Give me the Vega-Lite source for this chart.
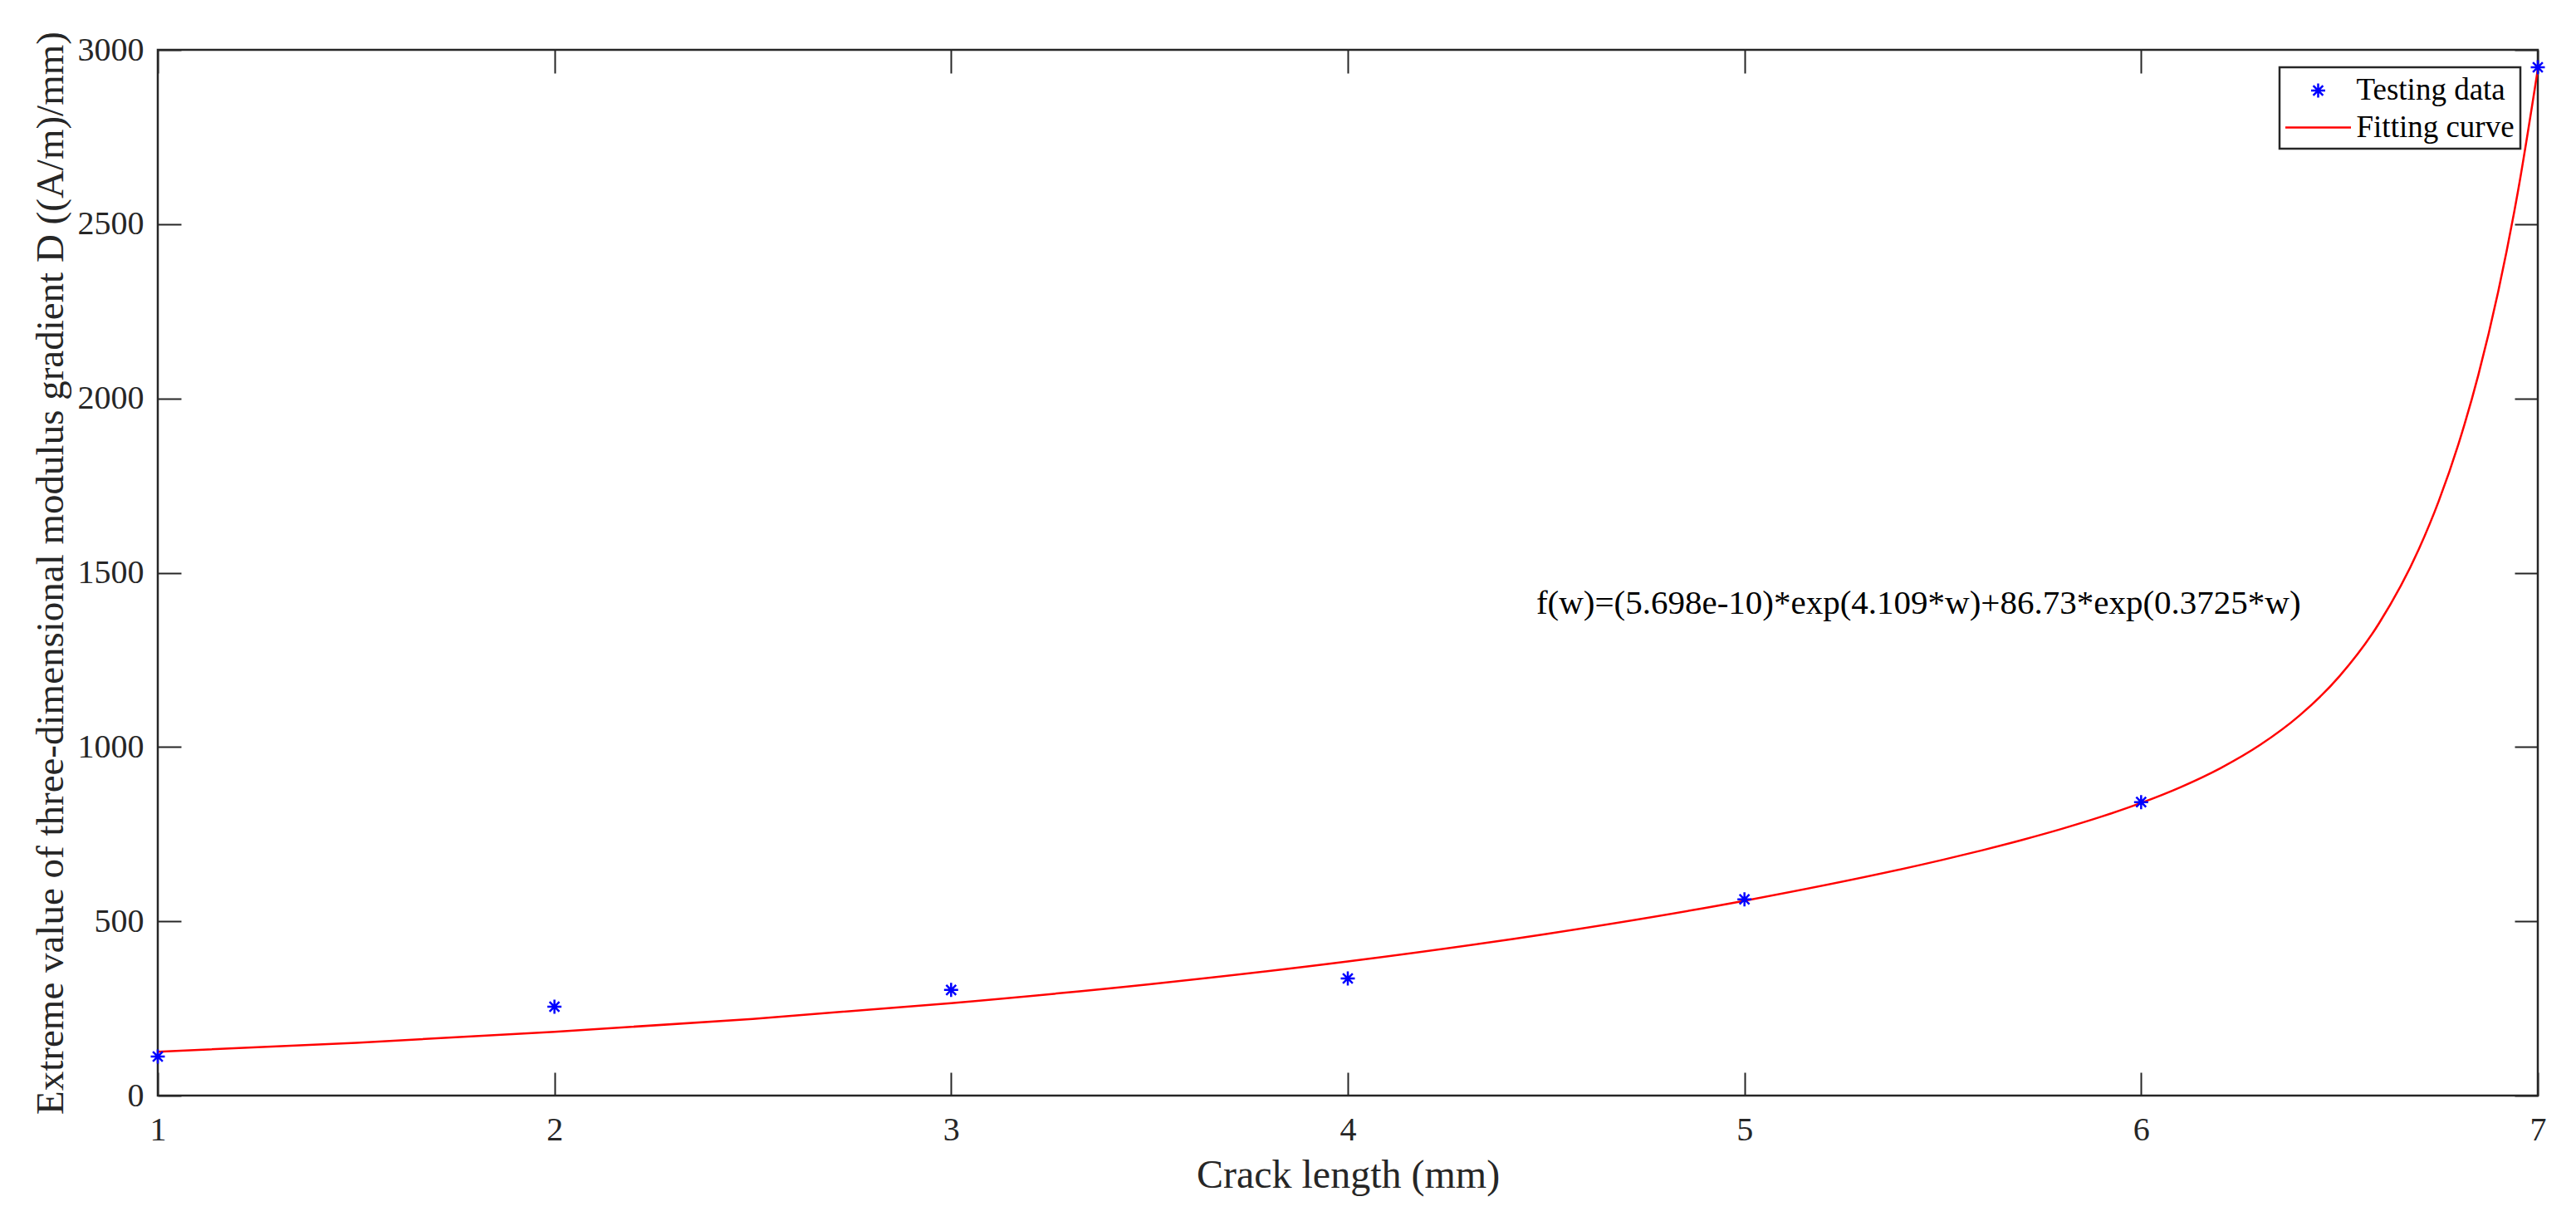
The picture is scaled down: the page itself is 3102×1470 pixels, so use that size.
{
  "$schema": "https://vega.github.io/schema/vega-lite/v6.json",
  "autosize": {"type": "none"},
  "padding": {"left": 190, "top": 60, "right": 46, "bottom": 151},
  "width": 2866,
  "height": 1259,
  "background": "white",
  "config": {
    "view": {"stroke": "#262626", "strokeWidth": 2.5},
    "font": "Liberation Serif",
    "axis": {
      "grid": false,
      "domain": false,
      "labelFlush": false,
      "tickColor": "#262626",
      "tickWidth": 2,
      "tickSize": -28,
      "labelFont": "Liberation Serif",
      "labelFontSize": 40,
      "labelColor": "#262626",
      "titleFont": "Liberation Serif",
      "titleFontWeight": "normal",
      "titleColor": "#262626"
    },
    "legend": {
      "orient": "top-right",
      "offset": 21,
      "padding": 7,
      "strokeColor": "#262626",
      "strokeWidth": 2.5,
      "fillColor": "white",
      "labelFont": "Liberation Serif",
      "labelFontSize": 37,
      "labelColor": "#000000",
      "labelLimit": 0,
      "labelOffset": 25,
      "symbolOffset": 18.5,
      "rowPadding": 5.5,
      "symbolSize": 1560,
      "symbolStrokeWidth": 2.5,
      "title": null
    }
  },
  "datasets": {
    "fit": [
      {"w": 1.0, "value": 125.9, "series": "Fitting curve"},
      {"w": 1.5, "value": 151.6, "series": "Fitting curve"},
      {"w": 2.0, "value": 182.7, "series": "Fitting curve"},
      {"w": 2.5, "value": 220.1, "series": "Fitting curve"},
      {"w": 3.0, "value": 265.2, "series": "Fitting curve"},
      {"w": 3.5, "value": 319.4, "series": "Fitting curve"},
      {"w": 4.0, "value": 384.8, "series": "Fitting curve"},
      {"w": 4.5, "value": 463.7, "series": "Fitting curve"},
      {"w": 5.0, "value": 559.0, "series": "Fitting curve"},
      {"w": 5.5, "value": 676.5, "series": "Fitting curve"},
      {"w": 5.6, "value": 703.9, "series": "Fitting curve"},
      {"w": 5.7, "value": 733.4, "series": "Fitting curve"},
      {"w": 5.8, "value": 765.2, "series": "Fitting curve"},
      {"w": 5.9, "value": 800.2, "series": "Fitting curve"},
      {"w": 6.0, "value": 839.6, "series": "Fitting curve"},
      {"w": 6.1, "value": 885.1, "series": "Fitting curve"},
      {"w": 6.2, "value": 939.3, "series": "Fitting curve"},
      {"w": 6.3, "value": 1006.0, "series": "Fitting curve"},
      {"w": 6.4, "value": 1091.0, "series": "Fitting curve"},
      {"w": 6.5, "value": 1203.0, "series": "Fitting curve"},
      {"w": 6.6, "value": 1355.2, "series": "Fitting curve"},
      {"w": 6.7, "value": 1567.3, "series": "Fitting curve"},
      {"w": 6.75, "value": 1704.7, "series": "Fitting curve"},
      {"w": 6.8, "value": 1869.1, "series": "Fitting curve"},
      {"w": 6.85, "value": 2066.9, "series": "Fitting curve"},
      {"w": 6.9, "value": 2305.4, "series": "Fitting curve"},
      {"w": 6.95, "value": 2594.1, "series": "Fitting curve"},
      {"w": 7.0, "value": 2944.0, "series": "Fitting curve"}
    ],
    "test": [
      {"w": 1, "value": 112, "series": "Testing data"},
      {"w": 2, "value": 255, "series": "Testing data"},
      {"w": 3, "value": 303, "series": "Testing data"},
      {"w": 4, "value": 336, "series": "Testing data"},
      {"w": 5, "value": 563, "series": "Testing data"},
      {"w": 6, "value": 842, "series": "Testing data"},
      {"w": 7, "value": 2950, "series": "Testing data"}
    ],
    "note": [
      {"w": 4.475, "value": 1383, "label": "f(w)=(5.698e-10)*exp(4.109*w)+86.73*exp(0.3725*w)"}
    ]
  },
  "layer": [
    {
      "data": {"name": "fit"},
      "mark": {"type": "line", "interpolate": "monotone", "strokeWidth": 2.5},
      "encoding": {
        "x": {
          "field": "w", "type": "quantitative",
          "scale": {"domain": [1, 7], "nice": false, "zero": false},
          "axis": {
            "orient": "bottom",
            "values": [1, 2, 3, 4, 5, 6, 7],
            "format": "d",
            "labelPadding": 49,
            "title": "Crack length (mm)",
            "titleFontSize": 48,
            "titlePadding": 11
          }
        },
        "y": {
          "field": "value", "type": "quantitative",
          "scale": {"domain": [0, 3000], "nice": false},
          "axis": {
            "orient": "left",
            "values": [0, 500, 1000, 1500, 2000, 2500, 3000],
            "format": "d",
            "labelPadding": 45,
            "title": "Extreme value of three-dimensional modulus gradient D ((A/m)/mm)",
            "titleFontSize": 47,
            "titlePadding": 8
          }
        },
        "color": {
          "field": "series", "type": "nominal",
          "scale": {"domain": ["Testing data", "Fitting curve"], "range": ["#0000ff", "#ff0000"]}
        }
      }
    },
    {
      "data": {"name": "test"},
      "mark": {"type": "point", "filled": false, "size": 1560, "strokeWidth": 2.5, "opacity": 1},
      "encoding": {
        "x": {
          "field": "w", "type": "quantitative",
          "axis": {"orient": "top", "values": [1, 2, 3, 4, 5, 6, 7], "labels": false, "title": null}
        },
        "y": {
          "field": "value", "type": "quantitative",
          "axis": {"orient": "right", "values": [0, 500, 1000, 1500, 2000, 2500, 3000], "labels": false, "title": null}
        },
        "color": {
          "field": "series", "type": "nominal",
          "scale": {"domain": ["Testing data", "Fitting curve"], "range": ["#0000ff", "#ff0000"]}
        },
        "shape": {
          "field": "series", "type": "nominal",
          "scale": {
            "domain": ["Testing data", "Fitting curve"],
            "range": [
              "M0,-0.43L0,0.43M-0.43,0L0.43,0M-0.3,-0.3L0.3,0.3M-0.3,0.3L0.3,-0.3",
              "M-2,0L2,0"
            ]
          }
        }
      }
    },
    {
      "data": {"name": "note"},
      "mark": {"type": "text", "align": "left", "baseline": "alphabetic", "font": "Liberation Serif", "fontSize": 41, "color": "#000000"},
      "encoding": {
        "x": {"field": "w", "type": "quantitative", "axis": null},
        "y": {"field": "value", "type": "quantitative", "axis": null},
        "text": {"field": "label"}
      }
    }
  ],
  "resolve": {"axis": {"x": "independent", "y": "independent"}}
}
